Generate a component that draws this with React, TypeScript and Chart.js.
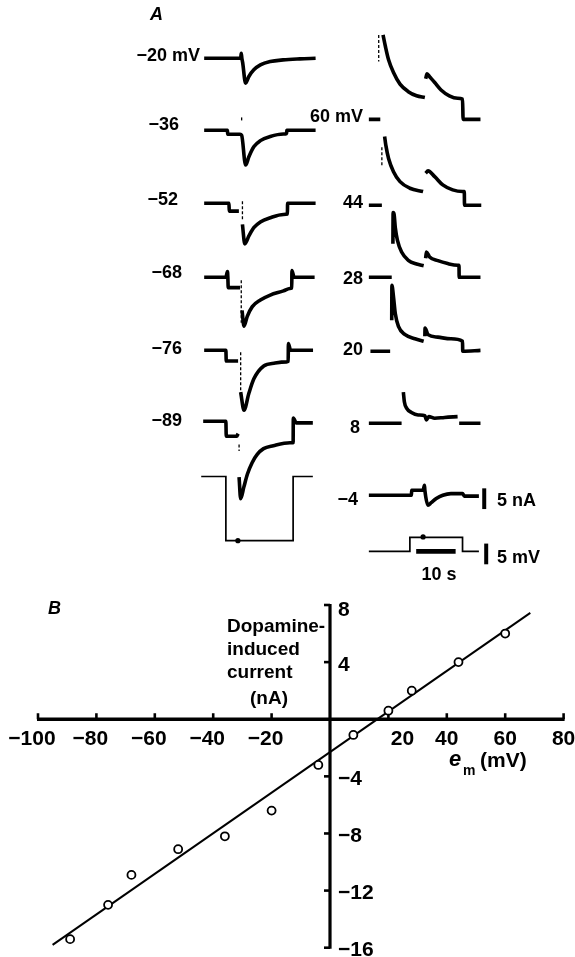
import React, { useEffect, useRef } from "react";
import { Chart, registerables } from "chart.js";

Chart.register(...registerables);

const FONT = '"Liberation Sans", Arial, Helvetica, sans-serif';

// ---------------- Panel A: current traces (t in s, I in nA relative to holding current) ----------------
const tM20 = [0, 9.25, 9.4, 9.55, 9.75, 10.5, 11.33, 12.58, 14.25, 16.75, 20, 24.25, 28.25];
const iM20 = [0, 0, 1.2, 0, -1.0, -6.0, -4.4, -2.8, -1.6, -0.8, -0.4, -0.15, 0];

const tM36 = [0, 5.9, 5.95, 9.1, 9.5, 10.5, 11.33, 12.58, 14.25, 16.75, 20.1, 20.9, 20.95, 28.25];
const iM36 = [0, 0, -0.95, -0.95, -1.2, -8.4, -6.4, -4.0, -2.5, -1.5, -0.9, -0.8, 0, 0];

const tM52 = [0, 6.3, 6.35, 8.8, 9.0, 9.7, 10.3, 11.33, 12.58, 14.25, 16.75, 20.1, 21.1, 21.15, 28.25];
const iM52 = [0, 0, -1.9, -1.9, null, -5.1, -9.8, -7.9, -5.9, -4.5, -3.5, -2.7, -2.6, 0, 0];

const tM68 = [0, 5.5, 5.9, 6.0, 6.1, 9.1, 9.3, 9.6, 10.1, 10.9, 12.2, 14.25, 16.75, 20.1, 21.75, 22.2, 22.25, 22.8, 28];
const iM68 = [0, 0, 1.4, 0, -2.5, -2.5, null, -8.0, -11.8, -9.5, -7.1, -5.5, -4.3, -3.3, -2.7, -2.6, 1.6, 0, 0];

const tM76 = [0, 5.5, 5.6, 8.6, 8.8, 9.25, 10.1, 11.3, 12.6, 15.1, 18, 20.9, 21.3, 21.35, 21.9, 27.6];
const iM76 = [0, 0, -2.6, -2.6, null, -10.1, -14.5, -10.5, -6.9, -3.8, -3.1, -2.8, -2.7, 1.6, 0, 0];

const tM89 = [0, 5.75, 5.85, 8.5, 8.85, 9.0, 9.1, 9.5, 10.3, 11.2, 12.4, 13.7, 15.3, 17.8, 22, 22.8, 22.85, 23.6, 27.8];
const iM89 = [0, 0, -3.6, -3.6, -3.0, null, -13.5, -18.7, -15.9, -12.8, -10, -8, -6.6, -5.9, -5.2, -5.2, 0.8, -0.4, -0.4];

const tP60 = [0, 2.9, 3.0, 3.6, 4.2, 5.0, 6.25, 7.9, 10, 12.1, 14.2, 14.3, 14.4, 14.75, 15.4, 16.7, 18.3, 20.4, 22.5, 23.75, 23.9, 28.3];
const iP60 = [0, 0, null, 20.4, 17.6, 14.4, 11.3, 8.5, 6.7, 5.7, 5.3, null, 9.8, 11.0, 10.3, 8.9, 7.1, 5.7, 5.1, 4.9, 0, 0];

const tP44 = [0, 3.3, 3.4, 4.0, 4.3, 5.0, 6.25, 7.9, 10.4, 13.75, 14.0, 14.4, 15.0, 16.7, 18.75, 21.25, 23.75, 24.2, 24.25, 28.5];
const iP44 = [0, 0, null, 16.6, 14.5, 11.3, 8.1, 5.7, 4.1, 3.3, null, 7.7, 8.3, 6.9, 4.9, 3.7, 3.3, 3.3, 0, 0];

const tP28 = [0, 5.8, 5.9, 6.1, 6.15, 6.4, 6.7, 7.25, 8.3, 10, 12.1, 13.9, 14.1, 14.4, 14.6, 15.4, 17.5, 20, 22.5, 22.85, 22.9, 28.3];
const iP28 = [0, 0, null, 8.1, 15.6, 15.2, 12.0, 8.9, 6.1, 4.1, 3.2, 2.8, null, 4.6, 6.1, 4.9, 4.0, 3.3, 2.9, 2.9, 0, 0];

const tP20 = [0.4, 5.4, 5.6, 5.8, 5.85, 6.25, 6.7, 7.5, 9.2, 11.7, 13.9, 14.05, 14.2, 14.25, 15, 17.5, 20.8, 23.75, 23.8, 28.3];
const iP20 = [0, 0, null, 7.5, 15.9, 13.1, 9.1, 6.0, 4.0, 3.0, 2.4, null, 3.6, 5.6, 4.0, 3.4, 3.0, 2.4, 0, 0.2];

const tP8 = [0, 8.3, 8.5, 8.75, 9.0, 9.6, 10.8, 12.5, 14.2, 14.6, 15.2, 16.7, 19.2, 22.5, 22.7, 22.9, 28.3];
const iP8 = [0, 0, null, 7.5, 5.2, 3.6, 2.6, 2.0, 1.8, 0.8, 1.6, 1.2, 1.4, 1.6, null, 0, 0];

const tM4 = [0, 10.8, 10.85, 13.75, 14.1, 14.2, 15.0, 15.8, 17.1, 18.75, 20.8, 23.75, 24.2, 27.9];
const iM4 = [0, 0, 1.2, 1.2, 2.4, 1.2, -2.4, -1.8, -0.8, 0, 0.4, 0.4, -0.2, -0.2];

// stimulus artefacts [t, I] pairs
const artM36 = [[9.5, 3.1], [9.5, 1.9]];
const artM52 = [[9.7, 0.5], [9.7, -4.3]];
const artM68 = [[9.4, -0.7], [9.4, -11.0]];
const artM76 = [[9.25, -0.5], [9.25, -11.7]];
const artM89 = [[9.1, -5.6], [9.1, -7.2]];
const artP60 = [[2.5, 20.4], [2.5, 14.0]];
const artP44 = [[3.3, 14.0], [3.3, 9.6]];

// voltage command traces (t in s, V in mV relative to holding potential)
const tCmdLeft = [0, 6.25, 6.25, 23.3, 23.3, 28.3];
const vCmdLeft = [0, 0, -15.5, -15.5, 0, 0];
const markCmdLeft = [9.3, -15.5];
const tCmdRight = [0, 10.4, 10.4, 23.75, 23.75, 27.9];
const vCmdRight = [0, 0, 3.4, 3.4, 0, 0];
const markCmdRight = [13.75, 3.5];

// calibration bars
const barTimeS = [0, 10];
const barCurrentNA = [0, 5];
const barVoltageMV = [0, 5];

const leftLabels = ["\u221220 mV", "\u221236", "\u221252", "\u221268", "\u221276", "\u221289"];
const rightLabels = ["60 mV", "44", "28", "20", "8", "\u22124"];

// ---------------- Panel B: I-V relation ----------------
const membranePotentialMV = [-89, -76, -68, -52, -36, -20, -4, 8, 20, 28, 44, 60];
const dopamineCurrentNA = [-15.4, -13.0, -10.9, -9.1, -8.2, -6.4, -3.2, -1.1, 0.6, 2.0, 4.0, 6.0];
const fitLineX = [-95, 68.6];
const fitLineY = [-15.8, 7.45];
const xTickValues = [-100, -80, -60, -40, -20, 20, 40, 60, 80];
const xTickLabels = ["\u2212100", "\u221280", "\u221260", "\u221240", "\u221220", "20", "40", "60", "80"];
const yTickValues = [8, 4, -4, -8, -12, -16];
const yTickLabels = ["8", "4", "\u22124", "\u22128", "\u221212", "\u221216"];
const X_MIN = -100, X_MAX = 80, Y_MIN = -16, Y_MAX = 8;

// ---------------- layout (pixels) ----------------
const W = 575;
const A_H = 590;
const B_H = 367;
const PX_PER_S = 4;
const PX_PER_NA = 4.2;
const PX_PER_MV = 4.2;

const currentTraceLayout = [
  { t: tM20, v: iM20, left: 203, base: 55, art: null },
  { t: tM36, v: iM36, left: 203, base: 128, art: artM36 },
  { t: tM52, v: iM52, left: 203, base: 202, art: artM52 },
  { t: tM68, v: iM68, left: 203, base: 277, art: artM68 },
  { t: tM76, v: iM76, left: 203, base: 351, art: artM76 },
  { t: tM89, v: iM89, left: 202, base: 423, art: artM89 },
  { t: tP60, v: iP60, left: 370, base: 117, art: artP60 },
  { t: tP44, v: iP44, left: 370, base: 204, art: artP44 },
  { t: tP28, v: iP28, left: 370, base: 277, art: null },
  { t: tP20, v: iP20, left: 370, base: 352, art: null },
  { t: tP8, v: iP8, left: 370, base: 425, art: null },
  { t: tM4, v: iM4, left: 370, base: 498, art: null },
];

const leftLabelPos = [[200, 55], [179, 124], [178, 199], [182, 272], [182, 348], [182, 420]];
const rightLabelPos = [[363, 116], [363, 202], [363, 278], [363, 349], [360, 427], [358, 499]];

function toPts(t: number[], v: (number | null)[], left: number, base: number, pxPerUnit: number) {
  const t0 = left / PX_PER_S;
  const v0 = (A_H - base) / pxPerUnit;
  return t.map((tt, k) => ({ x: t0 + tt, y: v[k] === null ? null : v0 + (v[k] as number) }));
}

function buildPanelA() {
  const datasets: any[] = [];
  currentTraceLayout.forEach((tr) => {
    datasets.push({
      data: toPts(tr.t, tr.v, tr.left, tr.base, PX_PER_NA),
      yAxisID: "yI",
      borderColor: "#000",
      borderWidth: 3.6,
      pointRadius: 0,
      cubicInterpolationMode: "monotone",
      borderJoinStyle: "round",
      spanGaps: false,
    });
    if (tr.art) {
      datasets.push({
        data: toPts(tr.art.map((p) => p[0]), tr.art.map((p) => p[1]), tr.left, tr.base, PX_PER_NA),
        yAxisID: "yI",
        borderColor: "#000",
        borderWidth: 1.3,
        borderDash: [3, 2],
        pointRadius: 0,
      });
    }
  });
  const volt = [
    { t: tCmdLeft, v: vCmdLeft, left: 200, base: 479, mark: markCmdLeft },
    { t: tCmdRight, v: vCmdRight, left: 370, base: 555, mark: markCmdRight },
  ];
  volt.forEach((vt) => {
    datasets.push({
      data: toPts(vt.t, vt.v, vt.left, vt.base, PX_PER_MV),
      yAxisID: "yV",
      borderColor: "#000",
      borderWidth: 1.7,
      pointRadius: 0,
      tension: 0,
    });
    datasets.push({
      data: toPts([vt.mark[0]], [vt.mark[1]], vt.left, vt.base, PX_PER_MV),
      yAxisID: "yV",
      showLine: false,
      pointRadius: 2.6,
      pointBackgroundColor: "#000",
      pointBorderColor: "#000",
      pointBorderWidth: 0,
    });
  });
  // calibration bars
  datasets.push({
    data: toPts(barTimeS, [0, 0], 418, 555, PX_PER_NA),
    yAxisID: "yI", borderColor: "#000", borderWidth: 4.8, pointRadius: 0,
  });
  datasets.push({
    data: toPts([0, 0], barCurrentNA, 487, 512, PX_PER_NA),
    yAxisID: "yI", borderColor: "#000", borderWidth: 4, pointRadius: 0,
  });
  datasets.push({
    data: toPts([0, 0], barVoltageMV, 489, 568, PX_PER_MV),
    yAxisID: "yV", borderColor: "#000", borderWidth: 4, pointRadius: 0,
  });

  return {
    type: "line" as const,
    data: { datasets },
    options: {
      responsive: false,
      animation: false as const,
      events: [] as any[],
      layout: { padding: 0 },
      plugins: { legend: { display: false }, tooltip: { enabled: false } },
      scales: {
        x: { type: "linear" as const, min: 0, max: W / PX_PER_S, display: false },
        yI: { type: "linear" as const, min: 0, max: A_H / PX_PER_NA, display: false },
        yV: { type: "linear" as const, min: 0, max: A_H / PX_PER_MV, display: false },
      },
    },
  };
}

const crossAxesPlugin = {
  id: "crossAxes",
  beforeDatasetsDraw(chart: any) {
    const { ctx } = chart;
    const xs = chart.scales.x;
    const ys = chart.scales.y;
    const X = (v: number) => xs.getPixelForValue(v);
    const Y = (v: number) => ys.getPixelForValue(v);
    const x0 = X(0);
    const y0 = Y(0);
    ctx.save();
    ctx.strokeStyle = "#000";
    ctx.fillStyle = "#000";
    ctx.lineCap = "butt";
    // x axis
    ctx.lineWidth = 3.5;
    ctx.beginPath();
    ctx.moveTo(X(X_MIN) - 1, y0);
    ctx.lineTo(X(X_MAX) + 1, y0);
    ctx.stroke();
    ctx.lineWidth = 2.6;
    xTickValues.forEach((v) => {
      ctx.beginPath();
      ctx.moveTo(X(v), y0);
      ctx.lineTo(X(v), y0 - 6);
      ctx.stroke();
    });
    // y axis
    ctx.lineWidth = 3.2;
    ctx.beginPath();
    ctx.moveTo(x0, Y(Y_MAX) - 1);
    ctx.lineTo(x0, Y(Y_MIN) + 1);
    ctx.stroke();
    ctx.lineWidth = 2.6;
    yTickValues.forEach((v) => {
      ctx.beginPath();
      ctx.moveTo(x0, Y(v));
      ctx.lineTo(x0 - 6, Y(v));
      ctx.stroke();
    });
    // tick labels
    ctx.font = `bold 21px ${FONT}`;
    ctx.textBaseline = "alphabetic";
    ctx.textAlign = "center";
    xTickValues.forEach((v, k) => {
      const dx = v < 0 ? -6 : v === 20 ? 14 : 0;
      ctx.fillText(xTickLabels[k], X(v) + dx, y0 + 18 + 7.5);
    });
    ctx.textAlign = "left";
    yTickValues.forEach((v, k) => {
      const dy = v === Y_MAX ? 3 : 1;
      ctx.fillText(yTickLabels[k], x0 + 8, Y(v) + dy + 7.5);
    });
    ctx.restore();
  },
};

function buildPanelB() {
  return {
    type: "line" as const,
    data: {
      datasets: [
        {
          data: membranePotentialMV.map((x, k) => ({ x, y: dopamineCurrentNA[k] })),
          showLine: false,
          pointRadius: 4,
          pointBorderWidth: 1.8,
          pointBackgroundColor: "#fff",
          pointBorderColor: "#000",
        },
        {
          data: fitLineX.map((x, k) => ({ x, y: fitLineY[k] })),
          borderColor: "#000",
          borderWidth: 2,
          pointRadius: 0,
        },
      ],
    },
    options: {
      responsive: false,
      animation: false as const,
      events: [] as any[],
      layout: { padding: { left: 38, right: 11.4, top: 15, bottom: 9.3 } },
      plugins: { legend: { display: false }, tooltip: { enabled: false } },
      scales: {
        x: { type: "linear" as const, min: X_MIN, max: X_MAX, display: false },
        y: { type: "linear" as const, min: Y_MIN, max: Y_MAX, display: false },
      },
    },
    plugins: [crossAxesPlugin],
  };
}

type TP = {
  x: number; y: number; align?: "left" | "right" | "center"; size?: number;
  italic?: boolean; weight?: string; children: React.ReactNode;
};
function T({ x, y, align = "left", size = 18, italic = false, weight = "bold", children }: TP) {
  const tx = align === "left" ? "0" : align === "right" ? "-100%" : "-50%";
  return (
    <div
      style={{
        position: "absolute", left: x, top: y, transform: `translate(${tx}, -50%)`,
        fontSize: size, lineHeight: 1, whiteSpace: "nowrap", fontWeight: weight as any,
        fontStyle: italic ? "italic" : "normal", fontFamily: FONT, color: "#000",
      }}
    >
      {children}
    </div>
  );
}

export default function App() {
  const refA = useRef<HTMLCanvasElement>(null);
  const refB = useRef<HTMLCanvasElement>(null);
  useEffect(() => {
    const a = new Chart(refA.current as HTMLCanvasElement, buildPanelA() as any);
    const b = new Chart(refB.current as HTMLCanvasElement, buildPanelB() as any);
    return () => {
      a.destroy();
      b.destroy();
    };
  }, []);
  return (
    <div style={{ position: "absolute", left: 0, top: 0, width: W, height: A_H + B_H, background: "#fff", overflow: "hidden" }}>
      <canvas ref={refA} width={W} height={A_H} style={{ position: "absolute", left: 0, top: 0 }} />
      <canvas ref={refB} width={W} height={B_H} style={{ position: "absolute", left: 0, top: A_H }} />
      <T x={150} y={14} italic size={18}>A</T>
      {leftLabels.map((s, k) => (
        <T key={"l" + k} x={leftLabelPos[k][0]} y={leftLabelPos[k][1]} align="right">{s}</T>
      ))}
      {rightLabels.map((s, k) => (
        <T key={"r" + k} x={rightLabelPos[k][0]} y={rightLabelPos[k][1]} align="right">{s}</T>
      ))}
      <T x={497} y={500}>5 nA</T>
      <T x={497} y={557}>5 mV</T>
      <T x={439} y={574} align="center">10 s</T>
      <T x={48} y={608} italic>B</T>
      <T x={227} y={625} size={19}>Dopamine-</T>
      <T x={227} y={648} size={19}>induced</T>
      <T x={227} y={671} size={19}>current</T>
      <T x={250} y={697} size={19}>(nA)</T>
      <T x={449} y={759} size={22} italic>e</T>
      <T x={463} y={770} size={14}>m</T>
      <T x={480} y={759} size={21}>(mV)</T>
    </div>
  );
}
